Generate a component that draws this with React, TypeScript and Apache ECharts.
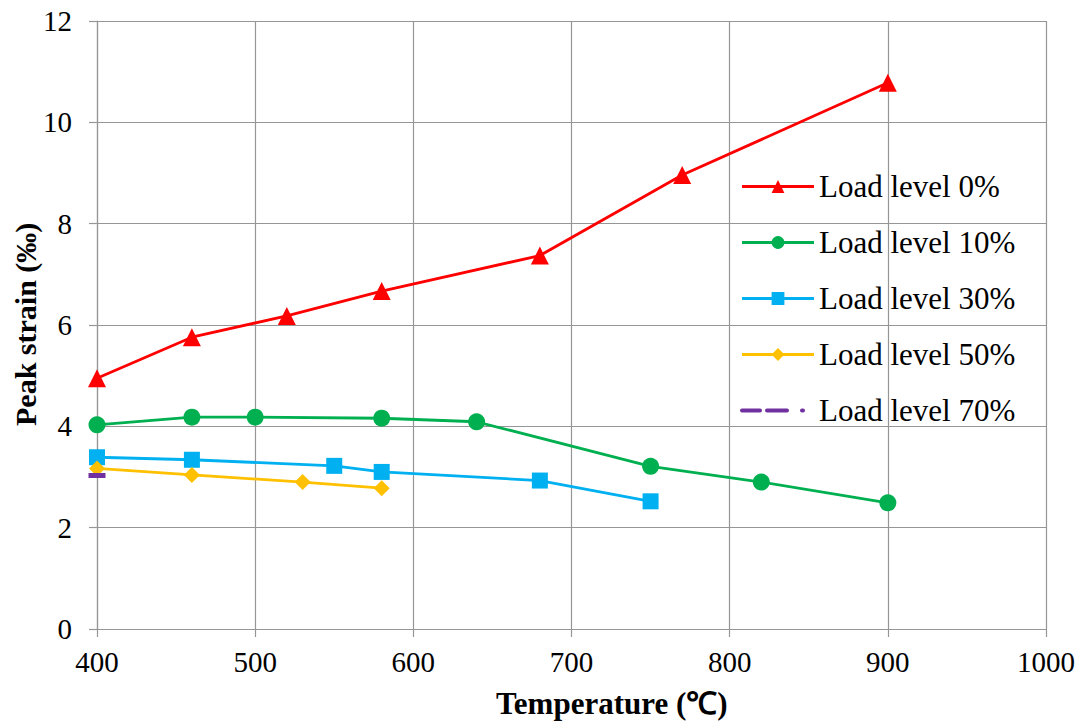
import React, { useEffect, useRef } from "react";
import * as echarts from "echarts";

// Temperature (°C) and peak strain (‰) for each load level
const temps0 = [400, 460, 520, 580, 680, 770, 900];
const strain0 = [4.95, 5.76, 6.18, 6.67, 7.37, 8.96, 10.78];

const temps10 = [400, 460, 500, 580, 640, 750, 820, 900];
const strain10 = [4.03, 4.18, 4.18, 4.16, 4.09, 3.21, 2.9, 2.49];

const temps30 = [400, 460, 550, 580, 680, 750];
const strain30 = [3.39, 3.34, 3.22, 3.1, 2.93, 2.52];

const temps50 = [400, 460, 530, 580];
const strain50 = [3.17, 3.04, 2.9, 2.78];

const temps70 = [400];
const strain70 = [3.03];

const seriesNames = [
  "Load level 0%",
  "Load level 10%",
  "Load level 30%",
  "Load level 50%",
  "Load level 70%",
];

const xTicks = { min: 400, max: 1000, interval: 100 };
const yTicks = { min: 0, max: 12, interval: 2 };

const FONT = "Liberation Serif";
const GRID_COLOR = "#969696";

const pairs = (xs: number[], ys: number[]) => xs.map((x, i) => [x, ys[i]]);

export default function App() {
  const ref = useRef<HTMLDivElement>(null);

  useEffect(() => {
    if (!ref.current) return;
    const chart = echarts.init(ref.current, undefined, { renderer: "svg" });

    const lineSeries = (
      name: string,
      data: number[][],
      color: string,
      symbol: string,
      symbolSize: number | number[]
    ) => ({
      name,
      type: "line",
      data,
      symbol,
      symbolSize,
      showAllSymbol: true,
      lineStyle: { color, width: 2.8 },
      itemStyle: { color },
      emphasis: { disabled: true },
      z: 3,
    });

    chart.setOption({
      animation: false,
      backgroundColor: "#ffffff",
      textStyle: { fontFamily: FONT },
      grid: { left: 97, right: 38, top: 21, bottom: 95, containLabel: false },
      xAxis: {
        type: "value",
        min: xTicks.min,
        max: xTicks.max,
        interval: xTicks.interval,
        axisLine: { show: true, lineStyle: { color: GRID_COLOR, width: 1.2 } },
        axisTick: { show: true, length: 8, lineStyle: { color: GRID_COLOR, width: 1.2 } },
        axisLabel: {
          color: "#000",
          fontFamily: FONT,
          fontSize: 29,
          margin: 18,
          formatter: (v: number) => String(v),
        },
        splitLine: { show: true, lineStyle: { color: GRID_COLOR, width: 1.2 } },
      },
      yAxis: {
        type: "value",
        min: yTicks.min,
        max: yTicks.max,
        interval: yTicks.interval,
        axisLine: { show: true, lineStyle: { color: GRID_COLOR, width: 1.2 } },
        axisTick: { show: true, length: 8, lineStyle: { color: GRID_COLOR, width: 1.2 } },
        axisLabel: {
          color: "#000",
          fontFamily: FONT,
          fontSize: 29,
          margin: 25,
          formatter: (v: number) => String(v),
        },
        splitLine: { show: true, lineStyle: { color: GRID_COLOR, width: 1.2 } },
      },
      legend: {
        orient: "vertical",
        left: 735,
        top: 166,
        itemWidth: 72,
        itemHeight: 16,
        itemGap: 25,
        textStyle: { color: "#000", fontFamily: FONT, fontSize: 31, lineHeight: 31 },
        data: [
          { name: seriesNames[0], lineStyle: { width: 3 } },
          { name: seriesNames[1], lineStyle: { width: 3 } },
          { name: seriesNames[2], lineStyle: { width: 3 } },
          { name: seriesNames[3], lineStyle: { width: 3 } },
          { name: seriesNames[4], lineStyle: { width: 4 }, itemStyle: { opacity: 0 } },
        ],
      },
      graphic: [
        {
          type: "text",
          left: 496,
          top: 688,
          style: {
            text: "Temperature (℃)",
            fontFamily: FONT,
            fontSize: 31,
            fontWeight: "bold",
            fill: "#000",
          },
        },
        {
          type: "text",
          x: 10,
          y: 426,
          rotation: Math.PI / 2,
          style: {
            text: "Peak strain (‰)",
            fontFamily: FONT,
            fontSize: 30,
            fontWeight: "bold",
            fill: "#000",
          },
        },
      ],
      series: [
        lineSeries(seriesNames[0], pairs(temps0, strain0), "#FF0000", "triangle", 18),
        lineSeries(seriesNames[1], pairs(temps10, strain10), "#00B050", "circle", 17),
        lineSeries(seriesNames[2], pairs(temps30, strain30), "#00B0F0", "rect", 16),
        lineSeries(seriesNames[3], pairs(temps50, strain50), "#FFC000", "diamond", 16),
        {
          ...lineSeries(seriesNames[4], pairs(temps70, strain70), "#7030A0", "rect", [17, 5]),
          lineStyle: {
            color: "#7030A0",
            width: 4,
            type: [18, 7, 20, 15, 1, 12],
            cap: "round",
          },
        },
      ],
    });

    return () => chart.dispose();
  }, []);

  return (
    <div
      ref={ref}
      style={{ position: "fixed", left: 0, top: 0, width: 1084, height: 724 }}
    />
  );
}
